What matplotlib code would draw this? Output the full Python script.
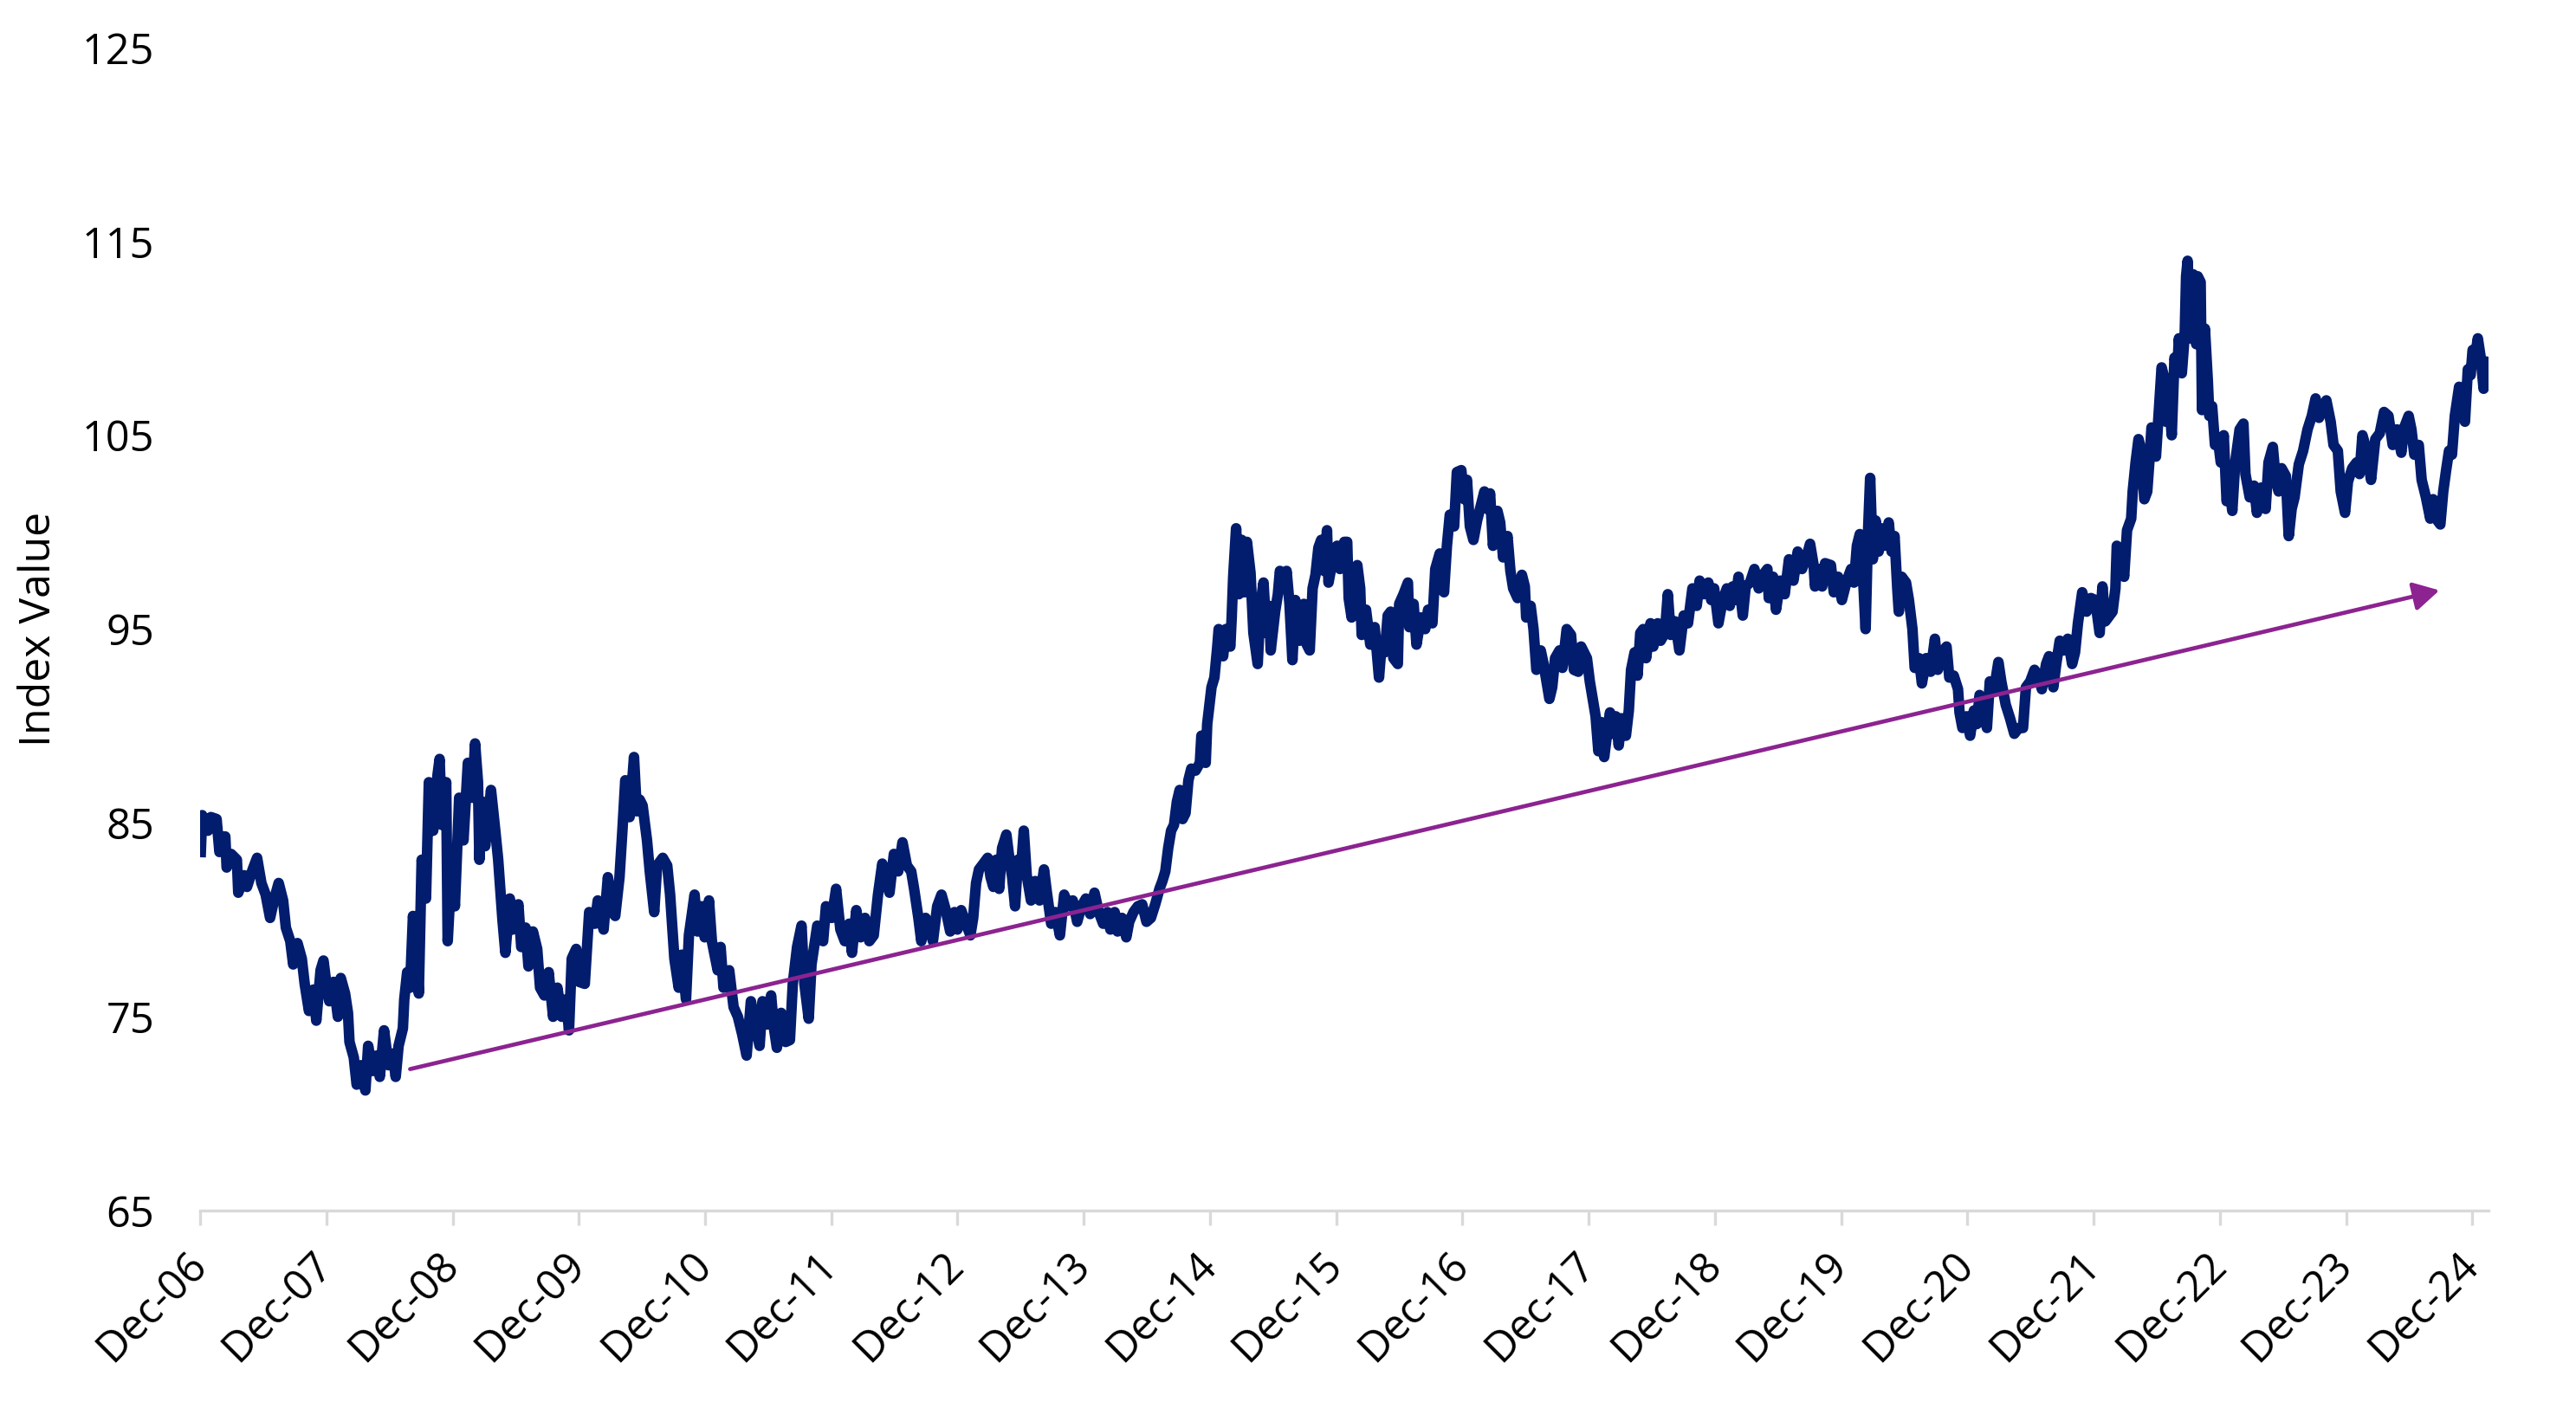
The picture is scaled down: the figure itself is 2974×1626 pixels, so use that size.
import matplotlib
matplotlib.use("Agg")
import matplotlib.pyplot as plt

# years since the Dec-06 tick
years = [
    0.005, 0.016, 0.062, 0.085, 0.130, 0.153, 0.176, 0.199, 0.210, 0.245, 0.291, 0.302, 0.348, 0.371, 0.416, 0.451,
    0.485, 0.519, 0.554, 0.588, 0.622, 0.657, 0.679, 0.714, 0.737, 0.771, 0.805, 0.828, 0.862, 0.897, 0.920, 0.954,
    0.977, 1.000, 1.023, 1.057, 1.091, 1.114, 1.148, 1.171, 1.183, 1.217, 1.240, 1.274, 1.309, 1.331, 1.366, 1.400,
    1.423, 1.457, 1.492, 1.526, 1.549, 1.572, 1.606, 1.617, 1.640, 1.663, 1.686, 1.709, 1.732, 1.755, 1.789, 1.812,
    1.846, 1.881, 1.897, 1.915, 1.949, 1.961, 1.995, 2.018, 2.052, 2.086, 2.121, 2.155, 2.178, 2.201, 2.212, 2.235,
    2.258, 2.304, 2.338, 2.361, 2.395, 2.418, 2.453, 2.475, 2.521, 2.544, 2.578, 2.601, 2.636, 2.670, 2.693, 2.727,
    2.761, 2.796, 2.830, 2.864, 2.899, 2.922,
    2.944, 2.979, 3.002, 3.047, 3.082, 3.127, 3.150, 3.196, 3.230, 3.265, 3.288, 3.322, 3.345, 3.368, 3.402, 3.437,
    3.459, 3.482, 3.505, 3.540, 3.562, 3.597, 3.620, 3.665, 3.700, 3.723, 3.757, 3.791, 3.814, 3.849, 3.872, 3.917,
    3.940, 3.974, 3.997, 4.031, 4.054, 4.100, 4.123, 4.146, 4.191, 4.226, 4.260, 4.294, 4.329, 4.363, 4.397, 4.432,
    4.455, 4.489, 4.523, 4.546, 4.569, 4.603, 4.638, 4.672, 4.695, 4.729, 4.764, 4.787, 4.821, 4.843, 4.889, 4.935,
    4.958, 5.004, 5.038, 5.072, 5.107, 5.141, 5.164, 5.198, 5.232, 5.267, 5.301, 5.336, 5.370, 5.404, 5.439, 5.461,
    5.496, 5.530, 5.564, 5.599, 5.633, 5.656, 5.690, 5.713, 5.747, 5.782, 5.805, 5.839, 5.873, 5.907, 5.942, 5.976,
    5.999, 6.029,
    6.067, 6.102, 6.124, 6.147, 6.170, 6.205, 6.239, 6.262, 6.284, 6.307, 6.330, 6.353, 6.387, 6.410, 6.433, 6.456,
    6.479, 6.502, 6.525, 6.548, 6.582, 6.616, 6.650, 6.685, 6.708, 6.742, 6.776, 6.811, 6.845, 6.879, 6.913, 6.948,
    6.982, 7.017, 7.051, 7.085, 7.119, 7.154, 7.188, 7.211, 7.245, 7.268, 7.303, 7.337, 7.360, 7.394, 7.428, 7.463,
    7.497, 7.532, 7.566, 7.600, 7.623, 7.646, 7.669, 7.692, 7.715, 7.738, 7.760, 7.783, 7.806, 7.829, 7.852, 7.886,
    7.920, 7.932, 7.966, 7.978, 8.012, 8.035, 8.058, 8.069, 8.104, 8.126, 8.161, 8.172, 8.184, 8.207, 8.229, 8.252,
    8.275, 8.293, 8.321, 8.344, 8.378, 8.401, 8.424, 8.447, 8.470, 8.481, 8.516, 8.538, 8.554, 8.584, 8.607, 8.630,
    8.653, 8.676, 8.710, 8.744, 8.767, 8.790, 8.813, 8.836, 8.859, 8.881, 8.904, 8.927, 8.939, 8.973, 9.007, 9.030,
    9.064, 9.087, 9.099, 9.122, 9.144, 9.167, 9.190, 9.202, 9.236, 9.270, 9.305, 9.339, 9.362, 9.385, 9.408, 9.431,
    9.453, 9.488, 9.499, 9.533, 9.568, 9.579, 9.613, 9.636, 9.671, 9.705, 9.728, 9.762, 9.785, 9.820, 9.854, 9.877,
    9.900, 9.934,
    9.956, 9.991, 10.014, 10.036, 10.059, 10.087, 10.116, 10.151, 10.174, 10.197, 10.219, 10.242, 10.277, 10.299,
    10.322, 10.357, 10.380, 10.402, 10.437, 10.471, 10.494, 10.505, 10.540, 10.563, 10.586, 10.620, 10.643, 10.666,
    10.689, 10.711, 10.734, 10.769, 10.792, 10.826, 10.860, 10.883, 10.918, 10.940, 10.963, 10.986, 11.009, 11.032,
    11.055, 11.077, 11.100, 11.123, 11.146, 11.169, 11.192, 11.215, 11.238, 11.261, 11.295, 11.318, 11.336, 11.364,
    11.387, 11.409, 11.432, 11.455, 11.490, 11.512, 11.547, 11.570, 11.604, 11.627, 11.650, 11.684, 11.719, 11.753,
    11.787, 11.822, 11.856, 11.879, 11.914, 11.948, 11.971, 11.994, 12.028, 12.062,
    12.095, 12.118, 12.141, 12.164, 12.187, 12.221, 12.244, 12.278, 12.313, 12.347, 12.381, 12.416, 12.427, 12.461,
    12.484, 12.519, 12.553, 12.587, 12.622, 12.656, 12.690, 12.725, 12.754, 12.782, 12.793, 12.827, 12.850, 12.873,
    12.919, 12.942, 12.976, 13.006, 13.045, 13.079, 13.102, 13.125, 13.148, 13.171, 13.194, 13.212, 13.230, 13.251,
    13.274, 13.297, 13.320, 13.342, 13.377, 13.400, 13.423, 13.445, 13.457, 13.480, 13.514, 13.537, 13.565, 13.583,
    13.617, 13.640, 13.674, 13.709, 13.743, 13.766, 13.800, 13.835, 13.857, 13.892, 13.926, 13.938, 13.961, 13.995,
    14.022, 14.052, 14.075, 14.097, 14.132, 14.155, 14.178, 14.212, 14.246, 14.269, 14.304, 14.338, 14.372, 14.407,
    14.441, 14.464, 14.498, 14.532, 14.567, 14.590, 14.624, 14.647, 14.681, 14.704, 14.732, 14.761, 14.796, 14.830,
    14.853, 14.876, 14.910, 14.945, 14.979, 15.013, 15.048, 15.070,
    15.093, 15.116, 15.150, 15.173, 15.184, 15.219, 15.242, 15.265, 15.298, 15.310, 15.333, 15.356, 15.379, 15.402,
    15.425, 15.448, 15.459, 15.494,
    15.539, 15.562, 15.573, 15.596, 15.619, 15.641, 15.664, 15.676, 15.699, 15.722, 15.733, 15.745, 15.767, 15.790,
    15.813, 15.825, 15.848, 15.859, 15.882, 15.905, 15.917, 15.939, 15.962, 15.985, 16.008, 16.031, 16.054, 16.077,
    16.099, 16.122, 16.157, 16.187, 16.203, 16.237, 16.271, 16.294, 16.328, 16.363, 16.386, 16.420, 16.443, 16.466,
    16.489, 16.523, 16.546, 16.569, 16.592, 16.626, 16.660, 16.695, 16.729, 16.759, 16.786, 16.821, 16.844, 16.878,
    16.901, 16.935, 16.958, 16.992, 17.015, 17.049, 17.084, 17.107, 17.130, 17.164, 17.198, 17.232, 17.267, 17.301,
    17.336, 17.370, 17.404, 17.438, 17.461, 17.496, 17.518, 17.541, 17.576, 17.599, 17.633, 17.667, 17.690, 17.713,
    17.747, 17.770, 17.793, 17.816, 17.839, 17.862, 17.896, 17.919, 17.942, 17.965, 17.987, 18.003, 18.022, 18.044,
    18.067, 18.090, 18.113, 18.124,
]

index_value = [
    83.5, 85.4, 84.6, 85.3, 85.2, 83.5, 84.3, 84.3, 82.7, 83.4, 83.1, 81.4, 82.3, 81.7, 82.6, 83.2,
    81.9, 81.3, 80.1, 81.1, 81.9, 81.0, 79.6, 78.9, 77.7, 78.8, 78.0, 76.7, 75.3, 76.4, 74.8, 77.4,
    77.9, 76.7, 75.8, 76.8, 75.0, 77.0, 76.2, 75.2, 73.7, 72.9, 71.5, 72.5, 71.2, 73.5, 72.2, 73.0,
    71.9, 74.3, 72.5, 73.1, 71.9, 73.5, 74.4, 75.9, 77.3, 76.5, 80.2, 78.9, 76.2, 83.1, 81.1, 87.1,
    84.6, 87.5, 88.3, 84.9, 87.1, 78.9, 83.1, 80.7, 86.3, 84.1, 88.1, 86.3, 89.1, 87.1, 83.1, 86.1,
    83.8, 86.7, 84.6, 83.1, 80.0, 78.3, 81.1, 79.5, 80.8, 78.6, 79.6, 77.6, 79.4, 78.5, 76.5, 76.1,
    77.3, 75.0, 76.5, 75.0, 75.9, 74.3,
    78.0, 78.5, 76.8, 76.7, 80.4, 79.8, 81.0, 79.5, 82.2, 80.4, 80.2, 82.2, 84.6, 87.2, 85.3, 88.4,
    85.6, 86.2, 85.9, 84.1, 82.5, 80.4, 82.8, 83.2, 82.8, 81.3, 78.0, 76.5, 78.2, 75.9, 79.2, 81.3,
    79.4, 80.7, 79.1, 81.0, 78.9, 77.4, 78.6, 76.5, 77.4, 75.5, 75.0, 74.1, 73.0, 75.8, 74.6, 73.5,
    75.8, 74.6, 76.1, 74.4, 73.4, 75.2, 73.7, 73.8, 76.7, 78.6, 79.7, 76.7, 74.9, 77.7, 79.7, 78.9,
    80.7, 80.1, 81.6, 79.5, 78.9, 79.8, 78.3, 80.5, 79.1, 80.1, 78.9, 79.2, 81.3, 82.9, 82.0, 81.4,
    83.4, 82.5, 84.0, 82.8, 82.5, 81.6, 80.1, 78.9, 80.1, 79.5, 78.9, 80.7, 81.3, 80.5, 79.4, 80.4,
    79.5, 80.5,
    79.8, 79.2, 80.1, 81.9, 82.6, 82.9, 83.2, 82.2, 81.7, 83.1, 81.6, 83.7, 84.4, 83.2, 82.2, 80.7,
    83.1, 82.5, 84.6, 82.3, 81.0, 82.0, 81.0, 82.6, 81.4, 79.8, 80.4, 79.2, 81.3, 80.7, 81.0, 79.9,
    80.7, 81.1, 80.3, 81.4, 80.4, 79.8, 80.4, 79.5, 80.4, 79.4, 80.1, 79.1, 79.9, 80.4, 80.7, 80.8,
    79.9, 80.1, 80.8, 81.6, 82.0, 82.5, 83.7, 84.6, 84.9, 86.1, 86.7, 85.2, 85.5, 87.2, 87.8, 87.7,
    88.1, 89.5, 88.1, 90.1, 92.0, 92.5, 94.1, 95.0, 93.6, 95.0, 94.1, 95.6, 97.7, 100.2, 96.8, 99.6,
    96.9, 99.5, 97.9, 94.8, 93.2, 96.3, 97.4, 94.8, 96.2, 93.9, 95.9, 96.8, 98.0, 97.1, 98.0, 96.3,
    93.4, 96.5, 94.4, 96.3, 94.2, 93.9, 97.1, 97.8, 99.2, 99.6, 98.0, 100.1, 97.4, 98.6, 99.3, 98.1,
    99.5, 99.5, 96.6, 95.6, 97.4, 98.3, 97.1, 94.7, 96.0, 94.2, 95.1, 92.5, 94.4, 93.8, 95.7, 95.9,
    93.5, 93.2, 96.3, 96.8, 97.4, 95.1, 96.3, 94.2, 95.6, 95.0, 96.0, 95.3, 98.1, 98.9, 96.9, 99.3,
    100.9, 100.3,
    103.1, 103.2, 101.7, 102.7, 100.3, 99.6, 100.6, 101.5, 102.1, 101.2, 102.0, 99.3, 101.1, 100.5,
    98.7, 99.8, 98.0, 97.1, 96.6, 97.8, 97.2, 95.6, 96.2, 95.0, 92.9, 93.9, 93.2, 92.3,
    91.4, 92.0, 93.5, 93.9, 93.0, 95.0, 94.7, 92.9, 92.8, 94.1, 93.8, 93.5, 92.3, 91.4,
    90.5, 88.7, 90.2, 88.4, 89.6, 90.7, 89.6, 90.5, 89.0, 90.4, 89.5, 90.8, 92.9, 93.8,
    92.6, 94.8, 95.0, 93.5, 95.3, 94.1, 95.3, 94.4, 94.8, 96.8, 94.7, 95.4, 93.9, 95.7,
    95.3, 97.1, 96.2, 97.5, 96.8, 97.4, 96.5, 97.1, 95.3, 96.5,
    97.1, 96.2, 97.2, 96.5, 97.7, 95.7, 97.2, 97.4, 98.1, 97.1, 97.8, 98.1, 96.6, 97.7,
    96.0, 97.5, 96.8, 98.6, 97.5, 99.0, 98.1, 98.7, 99.4, 98.3, 97.2, 98.1, 97.2, 98.4,
    98.3, 96.9, 97.7, 96.5, 97.5, 98.1, 97.4, 99.3, 99.9, 98.0, 95.0, 99.8, 102.8, 98.6,
    100.6, 99.0, 100.2, 99.3, 100.5, 99.0, 99.8, 97.1, 95.9, 97.7, 97.4, 96.5, 95.0, 93.0,
    93.5, 92.2, 93.5, 92.8, 94.5, 92.9, 93.8, 94.1, 92.5, 92.6, 91.9, 90.7, 89.9, 90.5,
    89.5, 90.8, 90.1, 91.6, 90.8, 89.9, 92.3, 91.9, 93.3, 92.3, 91.1, 90.4, 89.6, 89.9,
    89.9, 92.0, 92.3, 92.9, 92.5, 91.9, 93.2, 93.6, 92.0, 93.2, 94.4, 93.9, 94.5, 93.2,
    93.8, 95.3, 96.9, 95.9, 96.6, 96.5, 94.8, 97.2,
    95.4, 95.6, 95.9, 97.1, 99.3, 98.7, 97.7, 100.1, 100.7, 102.1, 103.6, 104.8, 104.2, 101.7,
    102.1, 104.2, 105.4, 103.9,
    108.5, 107.9, 105.7, 107.2, 105.0, 109.0, 108.4, 110.0, 108.2, 110.2, 113.2, 114.0, 110.0, 113.3,
    109.7, 113.2, 112.9, 106.3, 110.5, 107.8, 106.0, 106.5, 104.5, 104.8, 103.6, 105.0, 101.6, 102.3,
    101.1, 103.6, 105.3, 105.6, 103.0, 101.8, 102.4, 101.0, 102.3, 101.2, 103.6, 104.4, 102.7, 102.1,
    103.3, 102.9, 99.8, 101.2, 101.8, 103.5, 104.2, 105.3, 106.0, 106.9, 105.9, 106.5, 106.8, 105.7,
    104.5, 104.2, 102.1, 101.0, 102.6, 103.3, 103.6, 103.0, 105.0, 104.2, 102.7, 104.8, 105.1, 106.2,
    106.0, 104.5, 105.3, 104.1, 105.4, 106.0, 105.3, 104.0, 104.5, 102.7, 101.8, 100.7, 101.7, 100.7,
    100.4, 102.1, 103.2, 104.2, 104.0, 106.0, 107.5, 106.6, 105.7, 108.4, 108.1, 109.4, 109.0, 110.0,
    109.0, 107.4, 108.8, 107.8,
]

tick_labels = ['Dec-06', 'Dec-07', 'Dec-08', 'Dec-09', 'Dec-10', 'Dec-11', 'Dec-12', 'Dec-13', 'Dec-14',
               'Dec-15', 'Dec-16', 'Dec-17', 'Dec-18', 'Dec-19', 'Dec-20', 'Dec-21', 'Dec-22', 'Dec-23', 'Dec-24']
y_ticks = [65, 75, 85, 95, 105, 115, 125]

# trend arrow (start / end in data units)
arrow_start = (1.663, 72.3)
arrow_end = (17.74, 97.0)

plt.rcParams['font.family'] = ['Open Sans', 'DejaVu Sans']

fig = plt.figure(figsize=(14.87, 8.13), dpi=200)
ax = fig.add_axes([0.0777, 0.1402, 0.8884, 0.826])

ax.plot(years, index_value, color='#021C6E', linewidth=4.4, solid_joinstyle='round')

ax.annotate('', xy=arrow_end, xytext=arrow_start,
            arrowprops=dict(arrowstyle='-|>,head_length=0.9,head_width=0.5',
                            mutation_scale=10, color='#8C2390', lw=1.7,
                            shrinkA=0, shrinkB=0))

ax.set_xlim(0, 18.13)
ax.set_ylim(65, 125)
ax.set_xticks(range(len(tick_labels)))
ax.set_xticklabels(tick_labels, rotation=45, ha='right', va='center', rotation_mode='anchor')
ax.set_yticks(y_ticks)

for side in ['top', 'right', 'left']:
    ax.spines[side].set_visible(False)
ax.spines['bottom'].set_color('#D9D9D9')
ax.spines['bottom'].set_linewidth(1.2)

ax.tick_params(axis='x', direction='out', length=6, width=1.2, color='#D9D9D9', pad=14, labelsize=17.5)
ax.tick_params(axis='y', length=0, pad=19, labelsize=17.5)

ax.set_ylabel('Index Value', fontsize=18)
ax.yaxis.set_label_coords(-0.061, 0.5)

fig.savefig('out.png', dpi=200)
